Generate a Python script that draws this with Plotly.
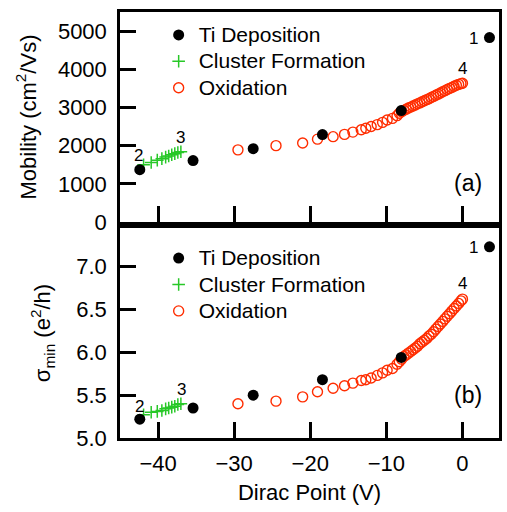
import plotly.graph_objects as go

# ---------------- data ----------------
ti_x = [3.55, -42.4, -35.4, -27.5, -18.4, -8.05]
ti_mob = [4830, 1370, 1610, 1920, 2290, 2920]
ti_sig = [7.23, 5.22, 5.35, 5.50, 5.68, 5.94]

cl_x = [-41.9, -40.9, -40.1, -39.5, -39.0, -38.6, -38.2, -37.8, -37.4, -37.0]
cl_mob = [1500, 1560, 1620, 1660, 1700, 1730, 1760, 1790, 1820, 1840]
cl_sig = [5.27, 5.30, 5.31, 5.32, 5.34, 5.35, 5.36, 5.37, 5.39, 5.40]

ox_x = [-29.5, -24.5, -21.0, -19.05, -17.0, -15.5, -14.4, -13.3, -12.7, -12.0,
        -11.2, -10.5, -9.9, -9.2, -8.6,
        -8.3, -8.0, -7.7, -7.4, -7.1, -6.8, -6.5, -6.2, -5.9, -5.6, -5.3, -5.0,
        -4.7, -4.4, -4.1, -3.8, -3.5, -3.2, -2.9, -2.6, -2.3, -2.0, -1.7, -1.4,
        -1.1, -0.8, -0.5, -0.2, 0.0]
ox_mob = [1890, 2000, 2070, 2170, 2235, 2295, 2355, 2415, 2455, 2500,
          2550, 2610, 2670, 2715, 2785,
          2850, 2890, 2925, 2955, 2985, 3010, 3040, 3065, 3095, 3120, 3150, 3175,
          3205, 3230, 3260, 3290, 3320, 3350, 3380, 3410, 3440, 3470, 3500, 3525,
          3555, 3580, 3605, 3625, 3635]
ox_sig = [5.40, 5.43, 5.48, 5.54, 5.58, 5.61, 5.64, 5.67, 5.68, 5.70,
          5.73, 5.76, 5.79, 5.81, 5.86,
          5.89, 5.92, 5.95, 5.97, 5.99, 6.01, 6.03, 6.05, 6.07, 6.10, 6.12, 6.14,
          6.16, 6.19, 6.21, 6.24, 6.27, 6.30, 6.33, 6.36, 6.39, 6.42, 6.45, 6.48,
          6.51, 6.54, 6.57, 6.60, 6.62]

series_names = ["Ti Deposition", "Cluster Formation", "Oxidation"]

x_ticks = [-40, -30, -20, -10, 0]
mob_ticks = [0, 1000, 2000, 3000, 4000, 5000]
sig_ticks = [5.0, 5.5, 6.0, 6.5, 7.0]

# ---------------- styling ----------------
FONT = "Liberation Sans, Arial, sans-serif"
RED = "rgb(255,45,0)"
GREEN = "rgb(40,200,40)"
TS = 22  # tick / title font size


def leg(name):
    return "<span style='font-size:21px'>" + name + "</span>"


fig = go.Figure()


def add_series(yvals_ti, yvals_cl, yvals_ox, xa, ya, legend):
    fig.add_trace(go.Scatter(x=ox_x, y=yvals_ox, mode="markers", name=leg(series_names[2]),
                             xaxis=xa, yaxis=ya, legend=legend, legendrank=3,
                             marker=dict(symbol="circle-open", size=10, color=RED,
                                         line=dict(width=1.4, color=RED))))
    fig.add_trace(go.Scatter(x=cl_x, y=yvals_cl, mode="markers", name=leg(series_names[1]),
                             xaxis=xa, yaxis=ya, legend=legend, legendrank=2,
                             marker=dict(symbol="cross-thin", size=9, color=GREEN,
                                         line=dict(width=1.5, color=GREEN))))
    fig.add_trace(go.Scatter(x=ti_x, y=yvals_ti, mode="markers", name=leg(series_names[0]),
                             xaxis=xa, yaxis=ya, legend=legend, legendrank=1,
                             marker=dict(symbol="circle", size=11, color="black")))


add_series(ti_mob, cl_mob, ox_mob, "x", "y", "legend")
add_series(ti_sig, cl_sig, ox_sig, "x2", "y2", "legend2")

axis_common = dict(showline=True, linecolor="black", linewidth=2.5, mirror=True,
                   ticks="inside", ticklen=16, tickwidth=2.5, tickcolor="black",
                   showgrid=False, zeroline=False,
                   tickfont=dict(family=FONT, size=TS, color="black"))

top_dom = [0.507, 1.0]
bot_dom = [0.0, 0.493]

fig.update_layout(
    width=507, height=512,
    margin=dict(l=120, r=5, t=12, b=74),
    paper_bgcolor="white", plot_bgcolor="white",
    font=dict(family=FONT, size=TS, color="black"),
    xaxis=dict(axis_common, domain=[0, 1], anchor="y", range=[-45, 4.8],
               tickvals=x_ticks, showticklabels=False),
    yaxis=dict(axis_common, domain=top_dom, anchor="x", range=[0, 5500],
               tickvals=mob_ticks, ticklabelstandoff=6,
               title=dict(text="Mobility (cm<sup>2</sup>/Vs)", standoff=16,
                          font=dict(family=FONT, size=TS))),
    xaxis2=dict(axis_common, domain=[0, 1], anchor="y2", range=[-45, 4.8],
                tickvals=x_ticks, ticklabelstandoff=4,
                title=dict(text="Dirac Point (V)", standoff=10,
                           font=dict(family=FONT, size=TS))),
    yaxis2=dict(axis_common, domain=bot_dom, anchor="x2", range=[5.0, 7.45],
                tickvals=sig_ticks, tickformat=".1f", ticklabelstandoff=6,
                title=dict(text="σ<sub>min</sub> (e<sup>2</sup>/h)", standoff=20,
                           font=dict(family=FONT, size=TS))),
    legend=dict(x=0.102, y=0.989, xanchor="left", yanchor="top",
                bgcolor="rgba(0,0,0,0)", font=dict(family=FONT, size=18),
                traceorder="normal"),
    legend2=dict(x=0.102, y=0.465, xanchor="left", yanchor="top",
                 bgcolor="rgba(0,0,0,0)", font=dict(family=FONT, size=18),
                 traceorder="normal"),
    showlegend=True,
)

ann_font = dict(family=FONT, size=17, color="black")
labels_top = [("1", 1.4, 4800), ("4", 0.0, 4020), ("2", -42.6, 1745), ("3", -37.1, 2220)]
labels_bot = [("1", 1.4, 7.22), ("4", 0.0, 6.80), ("2", -42.4, 5.37), ("3", -36.9, 5.56)]
for t, xx, yy in labels_top:
    fig.add_annotation(text=t, x=xx, y=yy, xref="x", yref="y", showarrow=False, font=ann_font)
for t, xx, yy in labels_bot:
    fig.add_annotation(text=t, x=xx, y=yy, xref="x2", yref="y2", showarrow=False, font=ann_font)
fig.add_annotation(text="(a)", x=0.74, y=1023, xref="x", yref="y", showarrow=False,
                   font=dict(family=FONT, size=23, color="black"))
fig.add_annotation(text="(b)", x=0.74, y=5.50, xref="x2", yref="y2", showarrow=False,
                   font=dict(family=FONT, size=23, color="black"))

fig.write_html("out.html")
